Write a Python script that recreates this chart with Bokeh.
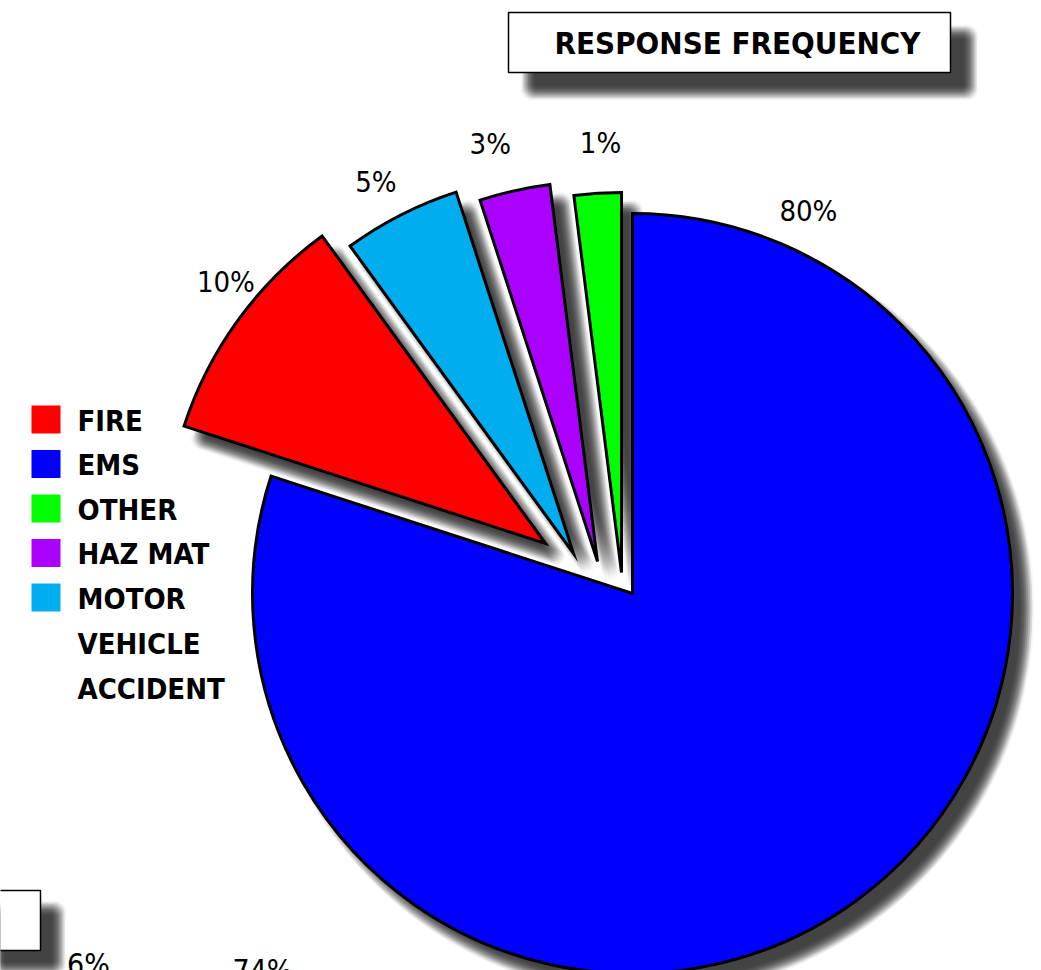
import numpy as np
from bokeh.plotting import figure
from bokeh.models import Range1d
from bokeh.core.properties import value
from bokeh.embed import file_html
from bokeh.resources import INLINE

# ---------------- data ----------------
categories = ["EMS", "FIRE", "MOTOR VEHICLE ACCIDENT", "HAZ MAT", "OTHER"]   # pie order, clockwise from 12 o'clock
shares = [80, 10, 5, 3, 2]                                                   # slice sizes as drawn
pct_labels = ["80%", "10%", "5%", "3%", "1%"]                                # labels as printed
legend_order = ["FIRE", "EMS", "OTHER", "HAZ MAT", "MOTOR VEHICLE ACCIDENT"]
legend_text = ["FIRE", "EMS", "OTHER", "HAZ MAT", "MOTOR\nVEHICLE\nACCIDENT"]
title_text = "RESPONSE FREQUENCY"
cut_labels = ["6%", "74%"]   # labels of a second chart, cut off at the bottom

# ---------------- style ----------------
colors = {"EMS": "#0000FF", "FIRE": "#FF0000", "MOTOR VEHICLE ACCIDENT": "#00AEEF",
          "HAZ MAT": "#AA00FF", "OTHER": "#00FF00"}
explode_px = {"EMS": (0, 0), "FIRE": (-87, -50), "MOTOR VEHICLE ACCIDENT": (-59, -40),
              "HAZ MAT": (-35, -32), "OTHER": (-11, -21)}
label_cw = {"EMS": 24.7, "FIRE": 309.3, "MOTOR VEHICLE ACCIDENT": 332.0,
            "HAZ MAT": 345.6, "OTHER": 357.2}
label_dist = {"EMS": 421, "FIRE": 413, "MOTOR VEHICLE ACCIDENT": 421,
              "HAZ MAT": 431, "OTHER": 430}
FONT = "'DejaVu Sans Condensed', 'Roboto Condensed', 'Liberation Sans Narrow', 'Liberation Sans', sans-serif"

W, H = 1041, 970
def X(px): return px
def Y(py): return H - py

CX, CY, R = 632, 593, 380

p = figure(width=W, height=H, output_backend="svg", toolbar_location=None,
           x_range=Range1d(0, W), y_range=Range1d(0, H), min_border=0)
p.axis.visible = False
p.grid.visible = False
p.outline_line_color = None
p.background_fill_color = "white"
p.border_fill_color = "white"

total = float(sum(shares))
cum = np.concatenate([[0.0], np.cumsum(shares)]) / total * 360.0

# blur sample offsets for soft drop shadows
blur = [(dx, dy) for dx in range(-8, 9, 2) for dy in range(-8, 9, 2) if dx * dx + dy * dy <= 64]
BA = 1 - 0.2 ** (1.0 / len(blur))   # per-sample alpha -> ~80% darkness at the core

slices = []
for i, cat in enumerate(categories):
    a1, a2 = cum[i], cum[i + 1]
    start = np.deg2rad(90 - a2)
    end = np.deg2rad(90 - a1)
    ex, ey = explode_px[cat]
    slices.append((cat, X(CX + ex), Y(CY + ey), start, end))

# shadows
SOX, SOY = 14, 15
for (dx, dy) in blur:
    for cat, x, y, s, e in slices:
        p.wedge(x=x + SOX + dx, y=y - SOY - dy, radius=R, start_angle=s, end_angle=e,
                fill_color="#222222", fill_alpha=BA, line_color=None)

# wedges
for cat, x, y, s, e in slices:
    p.wedge(x=x, y=y, radius=R, start_angle=s, end_angle=e,
            fill_color=colors[cat], line_color="black", line_width=3, line_join="miter")

# percent labels
for cat, lab in zip(categories, pct_labels):
    ex, ey = explode_px[cat]
    th = np.deg2rad(90 - label_cw[cat])
    lx = X(CX + ex) + label_dist[cat] * np.cos(th)
    ly = Y(CY + ey) + label_dist[cat] * np.sin(th)
    p.text(x=[lx], y=[ly], text=[lab], text_font=value(FONT), text_font_size="29px",
           text_align="center", text_baseline="middle", text_color="black")

# legend
for k, (cat, txt) in enumerate(zip(legend_order, legend_text)):
    top = 405 + k * 44.5
    p.quad(left=X(31), right=X(60), top=Y(top), bottom=Y(top + 28),
           fill_color=colors[cat], line_color=None)
    for j, line in enumerate(txt.split("\n")):
        p.text(x=[X(77)], y=[Y(top + 15 + j * 45)], text=[line], text_font=value(FONT),
               text_font_size="29px", text_font_style="bold", text_align="left",
               text_baseline="middle", text_color="black")

# title box with shadow
for (dx, dy) in blur:
    p.quad(left=X(508 + 20 + dx), right=X(950 + 20 + dx), top=Y(12 + 20 + dy), bottom=Y(72 + 20 + dy),
           fill_color="#222222", fill_alpha=BA, line_color=None)
p.quad(left=X(508), right=X(950), top=Y(12), bottom=Y(72), fill_color="white",
       line_color="black", line_width=1.5)
p.text(x=[X(737)], y=[Y(42)], text=[title_text], text_font=value(FONT), text_font_size="31px",
       text_font_style="bold", text_align="center", text_baseline="middle", text_color="black")

# cut-off box and labels of a second chart at the bottom
for (dx, dy) in blur:
    p.quad(left=X(-20 + 18 + dx), right=X(40 + 18 + dx), top=Y(890 + 18 + dy), bottom=Y(950 + 18 + dy),
           fill_color="#222222", fill_alpha=BA, line_color=None)
p.quad(left=X(-20), right=X(40), top=Y(890), bottom=Y(950), fill_color="white",
       line_color="black", line_width=1.5)
p.text(x=[X(88), X(262)], y=[Y(946), Y(952)], text=cut_labels, text_font=value(FONT),
       text_font_size="30px", text_align="center", text_baseline="top", text_color="black")

open("out.html", "w").write(file_html(p, INLINE))
